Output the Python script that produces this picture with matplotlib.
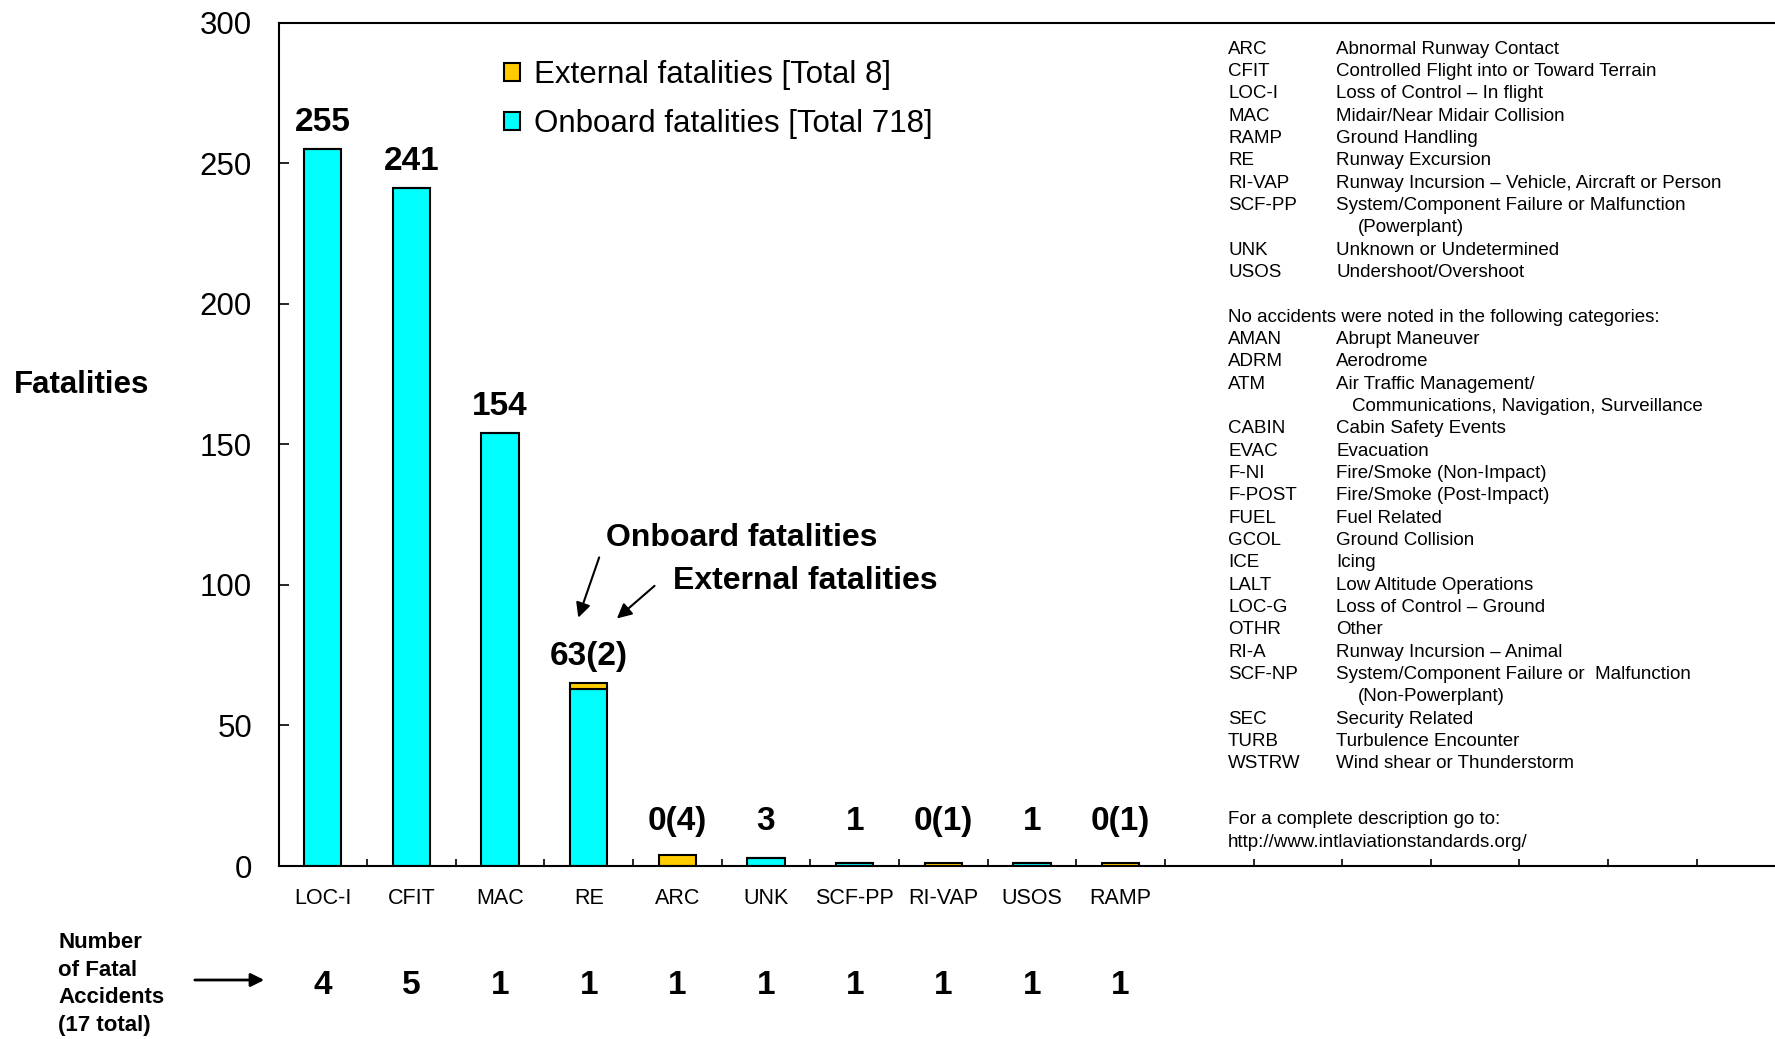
import numpy as np
import matplotlib.pyplot as plt
from matplotlib import transforms

plt.rcParams['font.family'] = ['Liberation Sans', 'DejaVu Sans']

# Data
categories = ["LOC-I", "CFIT", "MAC", "RE", "ARC", "UNK", "SCF-PP", "RI-VAP", "USOS", "RAMP"]
onboard = [255, 241, 154, 63, 0, 3, 1, 0, 1, 0]
external = [0, 0, 0, 2, 4, 0, 0, 1, 0, 1]
fatal_accidents = [4, 5, 1, 1, 1, 1, 1, 1, 1, 1]

codes_fatal = ["ARC", "CFIT", "LOC-I", "MAC", "RAMP", "RE", "RI-VAP", "SCF-PP", "UNK", "USOS"]
descs_fatal = ["Abnormal Runway Contact",
               "Controlled Flight into or Toward Terrain",
               "Loss of Control \u2013 In flight",
               "Midair/Near Midair Collision",
               "Ground Handling",
               "Runway Excursion",
               "Runway Incursion \u2013 Vehicle, Aircraft or Person",
               "System/Component Failure or Malfunction\n(Powerplant)",
               "Unknown or Undetermined",
               "Undershoot/Overshoot"]
codes_none = ["AMAN", "ADRM", "ATM", "CABIN", "EVAC", "F-NI", "F-POST", "FUEL", "GCOL", "ICE",
              "LALT", "LOC-G", "OTHR", "RI-A", "SCF-NP", "SEC", "TURB", "WSTRW"]
descs_none = ["Abrupt Maneuver",
              "Aerodrome",
              "Air Traffic Management/\nCommunications, Navigation, Surveillance",
              "Cabin Safety Events",
              "Evacuation",
              "Fire/Smoke (Non-Impact)",
              "Fire/Smoke (Post-Impact)",
              "Fuel Related",
              "Ground Collision",
              "Icing",
              "Low Altitude Operations",
              "Loss of Control \u2013 Ground",
              "Other",
              "Runway Incursion \u2013 Animal",
              "System/Component Failure or  Malfunction\n(Non-Powerplant)",
              "Security Related",
              "Turbulence Encounter",
              "Wind shear or Thunderstorm"]

W, H = 1775, 1039
fig = plt.figure(figsize=(W / 100, H / 100), dpi=100)
ax = fig.add_axes([278.5 / W, 1 - 866 / H, 1 - 278.5 / W, (866 - 22.6) / H])

x = np.arange(len(categories))
on_bars = ax.bar(x, onboard, width=0.42, color="#00FFFF", edgecolor="black", linewidth=1.5,
                 label="Onboard fatalities [Total 718]")
ext_bars = ax.bar(x, external, bottom=onboard, width=0.42, color="#FFCC00", edgecolor="black",
                  linewidth=1.5, label="External fatalities [Total 8]")

ax.set_xlim(-0.5, -0.5 + (W - 278.5) / 88.64)
ax.set_ylim(0, 300)
ax.set_yticks(np.arange(0, 301, 50))
ax.tick_params(axis="y", direction="in", length=7.5, width=1.2, labelsize=22.5, pad=19)
ax.set_xticks(x)
ax.set_xticklabels(categories)
ax.set_xticks(np.arange(-0.5, 16, 1), minor=True)
ax.tick_params(axis="x", which="major", length=0, labelsize=15.5, pad=16)
ax.tick_params(axis="x", which="minor", direction="in", length=5, width=1.2)
ax.spines["right"].set_visible(False)
for s in ["left", "top", "bottom"]:
    ax.spines[s].set_linewidth(1.5)

# value labels
for i in range(len(categories)):
    total = onboard[i] + external[i]
    lab = f"{onboard[i]}" + (f"({external[i]})" if external[i] else "")
    ax.text(i, max(total + 9.6, 16), lab, ha="center", va="center", fontsize=24, fontweight="bold")

# legend
ax.legend(handles=[ext_bars, on_bars], loc="upper left", bbox_to_anchor=(504 / W, 1 - 60 / H),
          bbox_transform=fig.transFigure, frameon=False, fontsize=22.5, borderpad=0, borderaxespad=0,
          handlelength=0.5, handleheight=0.5, handletextpad=0.45, labelspacing=0.6)

# annotation arrows
arrow = dict(arrowstyle="-|>", color="black", lw=1.5, mutation_scale=22)
ax.annotate("", xy=(2.872, 87.4), xytext=(3.128, 110.7), arrowprops=arrow)
ax.annotate("", xy=(3.294, 87.4), xytext=(3.766, 100.3), arrowprops=arrow)
ax.text(3.19, 116.8, "Onboard fatalities", fontsize=23, fontweight="bold", va="center", ha="left")
ax.text(3.945, 101.5, "External fatalities", fontsize=23, fontweight="bold", va="center", ha="left")

fig.text(13.6 / W, 1 - 385 / H, "Fatalities", fontsize=22.5, fontweight="bold", va="center", ha="left")

# number of fatal accidents
fig.text(58 / W, 1 - 984 / H, "Number\nof Fatal\nAccidents\n(17 total)", fontsize=16, fontweight="bold",
         va="center", ha="left", linespacing=1.4)
ax.annotate("", xy=(267 / W, 1 - 980 / H), xytext=(192 / W, 1 - 980 / H), xycoords="figure fraction",
            textcoords="figure fraction", arrowprops=dict(arrowstyle="-|>", color="black", lw=2, mutation_scale=20))
trans = transforms.blended_transform_factory(ax.transData, fig.transFigure)
for i, n in enumerate(fatal_accidents):
    ax.text(i, 1 - 986 / H, str(n), transform=trans, ha="center", va="center", fontsize=24,
            fontweight="bold", clip_on=False)

# category glossary
row0, dy = 49.3, 22.33
xc, xd, xi = 1228 / W, 1336 / W, 1358 / W


def put(line, txt, xpos):
    fig.text(xpos, 1 - (row0 + line * dy) / H, txt, fontsize=13.5, va="center", ha="left")


line = 0
for code, desc in zip(codes_fatal, descs_fatal):
    put(line, code, xc)
    parts = desc.split("\n")
    put(line, parts[0], xd)
    for extra in parts[1:]:
        line += 1
        put(line, extra, xi)
    line += 1
line += 1
put(line, "No accidents were noted in the following categories:", xc)
line += 1
for code, desc in zip(codes_none, descs_none):
    put(line, code, xc)
    parts = desc.split("\n")
    put(line, parts[0], xd)
    for extra in parts[1:]:
        line += 1
        put(line, extra, xi - 6 / W if "Comm" in extra else xi)
    line += 1
put(line + 1.5, "For a complete description go to:", xc)
put(line + 2.5, "http://www.intlaviationstandards.org/", xc)

fig.savefig("out.png", dpi=100)
